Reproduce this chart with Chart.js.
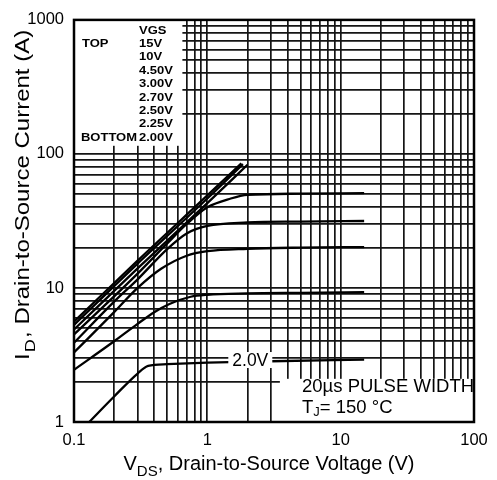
<!DOCTYPE html>
<html>
<head>
<meta charset="utf-8">
<script src="https://cdn.jsdelivr.net/npm/chart.js@4.4.1/dist/chart.umd.min.js"></script>
<style>
  html, body { margin: 0; padding: 0; background: #fff; }
</style>
</head>
<body>
<canvas id="myChart" width="497" height="480"></canvas>
<script>
const ctx = document.getElementById('myChart').getContext('2d');
const FONT = '"Liberation Sans", Arial, sans-serif';

// grid lines (log decades with 2..9 minors) and the labelled ticks
const xGrid = [0.1, 0.2, 0.3, 0.4, 0.5, 0.6, 0.7, 0.8, 0.9,
               1, 2, 3, 4, 5, 6, 7, 8, 9,
               10, 20, 30, 40, 50, 60, 70, 80, 90, 100];
const yGrid = [1, 2, 3, 4, 5, 6, 7, 8, 9,
               10, 20, 30, 40, 50, 60, 70, 80, 90,
               100, 200, 300, 400, 500, 600, 700, 800, 900, 1000];
const xLabels = [0.1, 1, 10, 100];
const yLabels = [1, 10, 100, 1000];

const vgsLabels = ['15V', '10V', '4.50V', '3.00V', '2.70V', '2.50V', '2.25V', '2.00V'];

// output curves, VDS (V) -> ID (A)
const vds15 = [0.1, 0.3, 1, 1.8];
const id15  = [5.6, 16, 49, 85];
const vds10 = [0.1, 0.3, 1, 1.85];
const id10  = [5.3, 15.2, 46.5, 84];
const vds45 = [0.1, 0.3, 1, 2.0];
const id45  = [4.9, 14, 43, 83];
const vds30 = [0.1, 0.3, 0.5, 0.7, 1, 1.5, 2, 5, 15];
const id30  = [4.5, 12.8, 21.5, 30, 40, 46.5, 49.5, 50.5, 51];
const vds27 = [0.1, 0.2, 0.3, 0.5, 0.7, 1, 2, 5, 15];
const id27  = [3.9, 7.9, 11.6, 19.5, 25.5, 29, 30.8, 31.3, 31.6];
const vds25 = [0.1, 0.2, 0.3, 0.45, 0.7, 1, 2, 5, 15];
const id25  = [3.3, 6.6, 10, 13.9, 17.4, 18.8, 19.6, 20, 20.2];
const vds225 = [0.1, 0.2, 0.3, 0.4, 0.52, 0.75, 1, 2, 5, 15];
const id225  = [2.45, 4.0, 5.4, 6.6, 7.6, 8.6, 8.9, 9.1, 9.2, 9.3];
const vds20 = [0.13, 0.2, 0.3, 0.36, 0.5, 1, 3, 15];
const id20  = [1, 1.55, 2.3, 2.62, 2.7, 2.77, 2.84, 2.92];

const curveVds = [vds15, vds10, vds45, vds30, vds27, vds25, vds225, vds20];
const curveId  = [id15, id10, id45, id30, id27, id25, id225, id20];

const noteLines = ['20µs PULSE WIDTH'];
const curveLabel = { text: '2.0V', x: 2.1, y: 2.9 };

const datasets = curveVds.map((xs, i) => ({
  label: vgsLabels[i],
  data: xs.map((v, j) => ({ x: v, y: curveId[i][j] })),
  borderColor: '#000',
  borderWidth: 2.3,
  pointRadius: 0,
  fill: false,
  cubicInterpolationMode: 'monotone'
}));

const stretchText = (c, txt, px, py, sx) => {
  c.save();
  c.translate(px, py);
  c.scale(sx, 1);
  c.fillText(txt, 0, 0);
  c.restore();
};

/*********************** decorations ***********************/
const decorations = {
  id: 'decorations',
  beforeDatasetsDraw(chart) {
    const {ctx, chartArea: ca, scales: {x, y}} = chart;
    ctx.save();
    ctx.fillStyle = '#fff';
    // legend block, top left
    let l = x.getPixelForValue(0.1), r = x.getPixelForValue(0.65);
    let t = y.getPixelForValue(1000), b = y.getPixelForValue(115);
    ctx.fillRect(l, t, r - l, b - t);
    // note block, bottom right
    l = x.getPixelForValue(3.5);
    t = y.getPixelForValue(2.1);
    ctx.fillRect(l, t, ca.right - l, ca.bottom - t);
    ctx.restore();
  },
  afterDatasetsDraw(chart) {
    const {ctx, chartArea: ca, scales: {x, y}} = chart;
    ctx.save();
    ctx.fillStyle = '#000';

    // label on the 2.0V curve
    ctx.font = '17.5px ' + FONT;
    const lx = x.getPixelForValue(curveLabel.x);
    const ly = y.getPixelForValue(curveLabel.y);
    const lw = ctx.measureText(curveLabel.text).width;
    ctx.fillStyle = '#fff';
    ctx.fillRect(lx - lw / 2 - 4, ly - 8, lw + 8, 16);
    ctx.fillStyle = '#000';
    ctx.textAlign = 'center';
    ctx.textBaseline = 'middle';
    ctx.fillText(curveLabel.text, lx, ly + 1);

    // VGS legend
    ctx.textAlign = 'left';
    ctx.font = 'bold 11px ' + FONT;
    stretchText(ctx, 'VGS', ca.left + 65, ca.top + 11, 1.18);
    stretchText(ctx, 'TOP', ca.left + 8, ca.top + 24, 1.18);
    stretchText(ctx, 'BOTTOM', ca.left + 7, ca.top + 24 + 13.4 * 7, 1.18);
    vgsLabels.forEach((s, i) => {
      stretchText(ctx, s, ca.left + 65, ca.top + 24 + 13.4 * i, 1.18);
    });

    // pulse note
    ctx.font = '18.5px ' + FONT;
    ctx.fillText(noteLines[0], ca.left + 228, ca.bottom - 35);
    let px = ca.left + 228;
    const py = ca.bottom - 14;
    ctx.fillText('T', px, py);
    px += ctx.measureText('T').width;
    ctx.font = '13px ' + FONT;
    ctx.fillText('J', px, py + 4);
    px += ctx.measureText('J').width;
    ctx.font = '18.5px ' + FONT;
    ctx.fillText('= 150 °C', px, py);

    // frame
    ctx.strokeStyle = '#000';
    ctx.lineWidth = 2.5;
    ctx.strokeRect(ca.left, ca.top, ca.right - ca.left, ca.bottom - ca.top);
    ctx.restore();
  },
  afterDraw(chart) {
    const {ctx} = chart;
    ctx.save();
    ctx.fillStyle = '#000';
    ctx.textBaseline = 'alphabetic';
    ctx.textAlign = 'left';

    // x title
    const big = '20px ' + FONT, small = '15px ' + FONT;
    const rest = ', Drain-to-Source Voltage (V)';
    ctx.font = big;
    const wV = ctx.measureText('V').width, wR = ctx.measureText(rest).width;
    ctx.font = small;
    const wS = ctx.measureText('DS').width;
    let sx = 269 - (wV + wS + wR) / 2;
    ctx.font = big;
    ctx.fillText('V', sx, 470);
    ctx.font = small;
    ctx.fillText('DS', sx + wV, 476);
    ctx.font = big;
    ctx.fillText(rest, sx + wV + wS, 470);

    // y title, stretched along its run like the original
    ctx.translate(29, 360);
    ctx.rotate(-Math.PI / 2);
    ctx.scale(1.2, 1);
    const yrest = ', Drain-to-Source Current (A)';
    ctx.font = big;
    ctx.fillText('I', 0, 0);
    const wI = ctx.measureText('I').width;
    ctx.font = small;
    ctx.fillText('D', wI + 1, 6);
    const wD = ctx.measureText('D').width;
    ctx.font = big;
    ctx.fillText(yrest, wI + wD + 2, 0);
    ctx.restore();
  }
};

const gridStyle = { color: '#151515', lineWidth: 1.7, drawTicks: false };

const myChart = new Chart(ctx, {
  type: 'line',
  data: { datasets: datasets },
  options: {
    responsive: false,
    animation: false,
    layout: { padding: { top: 19, right: 23, left: 0, bottom: 0 } },
    plugins: {
      legend: { display: false },
      tooltip: { enabled: false }
    },
    scales: {
      x: {
        type: 'logarithmic',
        min: 0.1,
        max: 100,
        afterBuildTicks: (s) => { s.ticks = xGrid.map(v => ({ value: v })); },
        afterFit: (s) => { s.height = 58; },
        grid: gridStyle,
        border: { display: false },
        ticks: {
          autoSkip: false,
          maxRotation: 0,
          padding: 9,
          color: '#000',
          font: { family: FONT, size: 16.5 },
          callback: (v) => xLabels.includes(v) ? String(v) : ''
        }
      },
      y: {
        type: 'logarithmic',
        min: 1,
        max: 1000,
        afterBuildTicks: (s) => { s.ticks = yGrid.map(v => ({ value: v })); },
        afterFit: (s) => { s.width = 74; },
        grid: gridStyle,
        border: { display: false },
        ticks: {
          autoSkip: false,
          padding: 10,
          color: '#000',
          font: { family: FONT, size: 16.5 },
          callback: (v) => yLabels.includes(v) ? String(v) : ''
        }
      }
    }
  },
  plugins: [decorations]
});
</script>
</body>
</html>
